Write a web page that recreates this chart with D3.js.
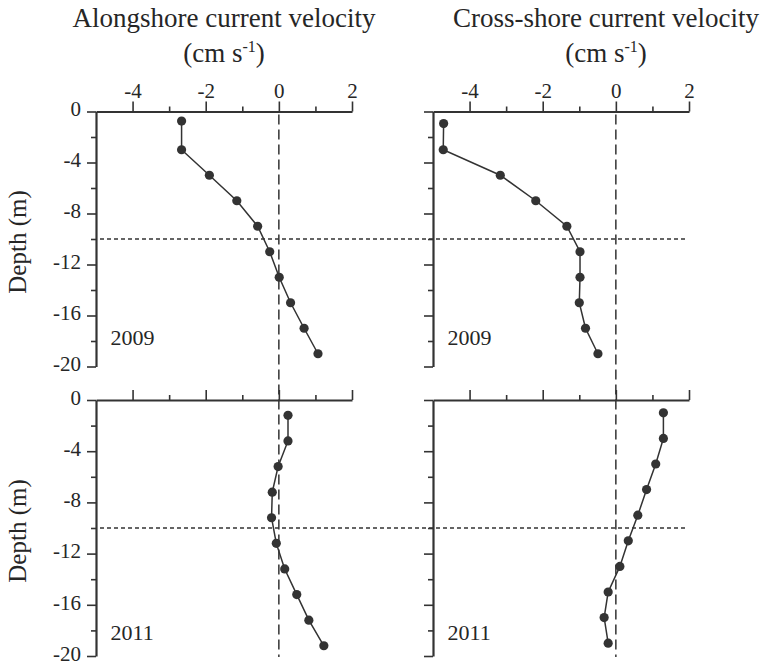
<!DOCTYPE html>
<html><head><meta charset="utf-8">
<script src="https://cdn.jsdelivr.net/npm/d3@7"></script>
<style>
html,body{margin:0;padding:0;background:#fff;}
svg text{font-family:"Liberation Serif","Times New Roman",serif;fill:#262626;}
</style></head>
<body><svg id="c" width="768" height="668"></svg>
<script>
// ---- data ----
const depthAlong2009 = [-0.75, -3, -5, -7, -9, -11, -13, -15, -17, -19];
const along2009 = [-2.66, -2.66, -1.9, -1.15, -0.58, -0.25, 0.01, 0.32, 0.69, 1.07];
const depthCross2009 = [-0.95, -3, -5, -7, -9, -11, -13, -15, -17, -19];
const cross2009 = [-4.71, -4.72, -3.16, -2.19, -1.34, -0.98, -0.98, -1.0, -0.83, -0.49];
const depthAlong2011 = [-1.2, -3.2, -5.2, -7.2, -9.2, -11.2, -13.2, -15.2, -17.2, -19.2];
const along2011 = [0.25, 0.25, -0.02, -0.18, -0.2, -0.07, 0.16, 0.49, 0.82, 1.23];
const depthCross2011 = [-1, -3, -5, -7, -9, -11, -13, -15, -17, -19];
const cross2011 = [1.30, 1.30, 1.09, 0.84, 0.60, 0.34, 0.11, -0.21, -0.32, -0.21];
const xMajorTicks = [-4, -2, 0, 2];
const xMinorTicks = [-3, -1, 1];
const yMajorTicks = [0, -4, -8, -12, -16, -20];
const yMinorTicks = [-2, -6, -10, -14, -18];
const thermoclineDepth = -10;
const columnTitles = ["Alongshore current velocity", "Cross-shore current velocity"];
const years = ["2009", "2011"];

// ---- layout ----
const svg = d3.select("#c");
const ink = "#333";
const fmt = v => String(v); // plain hyphen-minus like the reference
const cols = [{x0: 96, x1: 352}, {x0: 433, x1: 689}];
const rows = [{y0: 111.5, y1: 366.5}, {y0: 400, y1: 656}];
const xs = cols.map(c => d3.scaleLinear().domain([-5, 2]).range([c.x0, c.x1]));
const ys = rows.map(r => d3.scaleLinear().domain([0, -20]).range([r.y0, r.y1]));

const panels = [
  {c: 0, r: 0, v: along2009, d: depthAlong2009},
  {c: 1, r: 0, v: cross2009, d: depthCross2009},
  {c: 0, r: 1, v: along2011, d: depthAlong2011},
  {c: 1, r: 1, v: cross2011, d: depthCross2011}
];

// column titles
cols.forEach((c, i) => {
  const cx = i === 0 ? 224 : 606;
  svg.append("text").attr("x", cx).attr("y", 27).attr("text-anchor", "middle")
    .attr("font-size", 27).text(columnTitles[i]);
  const t = svg.append("text").attr("x", cx).attr("y", 62).attr("text-anchor", "middle")
    .attr("font-size", 27);
  t.append("tspan").text("(cm s");
  t.append("tspan").attr("font-size", 16).attr("dy", -10).text("-1");
  t.append("tspan").attr("dy", 10).text(")");
});

// Depth labels
rows.forEach((r, i) => {
  const cy = (r.y0 + r.y1) / 2 + 3;
  svg.append("text").attr("transform", `translate(26,${cy}) rotate(-90)`)
    .attr("text-anchor", "middle").attr("font-size", 25).text("Depth (m)");
});

// vertical zero dashed lines
cols.forEach((c, i) => {
  svg.append("line").attr("x1", xs[i](0)).attr("x2", xs[i](0))
    .attr("y1", rows[0].y0 + 3).attr("y2", rows[1].y1 + 1)
    .attr("stroke", ink).attr("stroke-width", 1.5).attr("stroke-dasharray", "10,5");
});

// horizontal thermocline dotted lines
rows.forEach((r, i) => {
  svg.append("line").attr("x1", 100).attr("x2", 687)
    .attr("y1", ys[i](thermoclineDepth)).attr("y2", ys[i](thermoclineDepth))
    .attr("stroke", ink).attr("stroke-width", 1.3).attr("stroke-dasharray", "4,3");
});

panels.forEach(p => {
  const x = xs[p.c], y = ys[p.r];
  const g = svg.append("g");
  // top x axis major
  const xa = g.append("g").attr("transform", `translate(0,${y(0)})`)
    .call(d3.axisTop(x).tickValues(xMajorTicks).tickSize(10).tickSizeOuter(0)
      .tickFormat(p.r === 0 ? fmt : ""));
  xa.attr("font-family", null).attr("font-size", null);
  xa.select(".domain").attr("stroke", ink).attr("stroke-width", 2.2);
  xa.selectAll(".tick line").attr("stroke", ink).attr("stroke-width", 1.6);
  xa.selectAll(".tick text").attr("font-size", 21)
    .attr("fill", "#262626").attr("y", -14).attr("dy", 0);
  const xm = g.append("g").attr("transform", `translate(0,${y(0)})`)
    .call(d3.axisTop(x).tickValues(xMinorTicks).tickSize(5).tickSizeOuter(0).tickFormat(""));
  xm.select(".domain").remove();
  xm.selectAll(".tick line").attr("stroke", ink).attr("stroke-width", 1.6);
  // left y axis
  const ya = g.append("g").attr("transform", `translate(${x(-5)},0)`)
    .call(d3.axisLeft(y).tickValues(yMajorTicks).tickSize(9).tickSizeOuter(0)
      .tickFormat(p.c === 0 ? fmt : ""));
  ya.attr("font-family", null).attr("font-size", null);
  ya.select(".domain").attr("stroke", ink).attr("stroke-width", 2.2);
  ya.selectAll(".tick line").attr("stroke", ink).attr("stroke-width", 1.6);
  ya.selectAll(".tick text").attr("font-size", 21)
    .attr("fill", "#262626").attr("x", -15).attr("dy", "0.2em");
  const ym = g.append("g").attr("transform", `translate(${x(-5)},0)`)
    .call(d3.axisLeft(y).tickValues(yMinorTicks).tickSize(5).tickSizeOuter(0).tickFormat(""));
  ym.select(".domain").remove();
  ym.selectAll(".tick line").attr("stroke", ink).attr("stroke-width", 1.6);

  // profile line and points
  const pts = p.v.map((v, i) => [v, p.d[i]]);
  g.append("path").datum(pts)
    .attr("d", d3.line().x(d => x(d[0])).y(d => y(d[1])))
    .attr("fill", "none").attr("stroke", ink).attr("stroke-width", 1.5);
  g.selectAll("circle.pt").data(pts).join("circle").attr("class", "pt")
    .attr("cx", d => x(d[0])).attr("cy", d => y(d[1])).attr("r", 4.6).attr("fill", ink);

  // year label
  g.append("text").attr("x", x(-5) + 14.5).attr("y", p.r === 0 ? y(0) + 233.5 : y(0) + 240)
    .attr("font-size", 22).text(years[p.r]);
});
</script></body></html>
